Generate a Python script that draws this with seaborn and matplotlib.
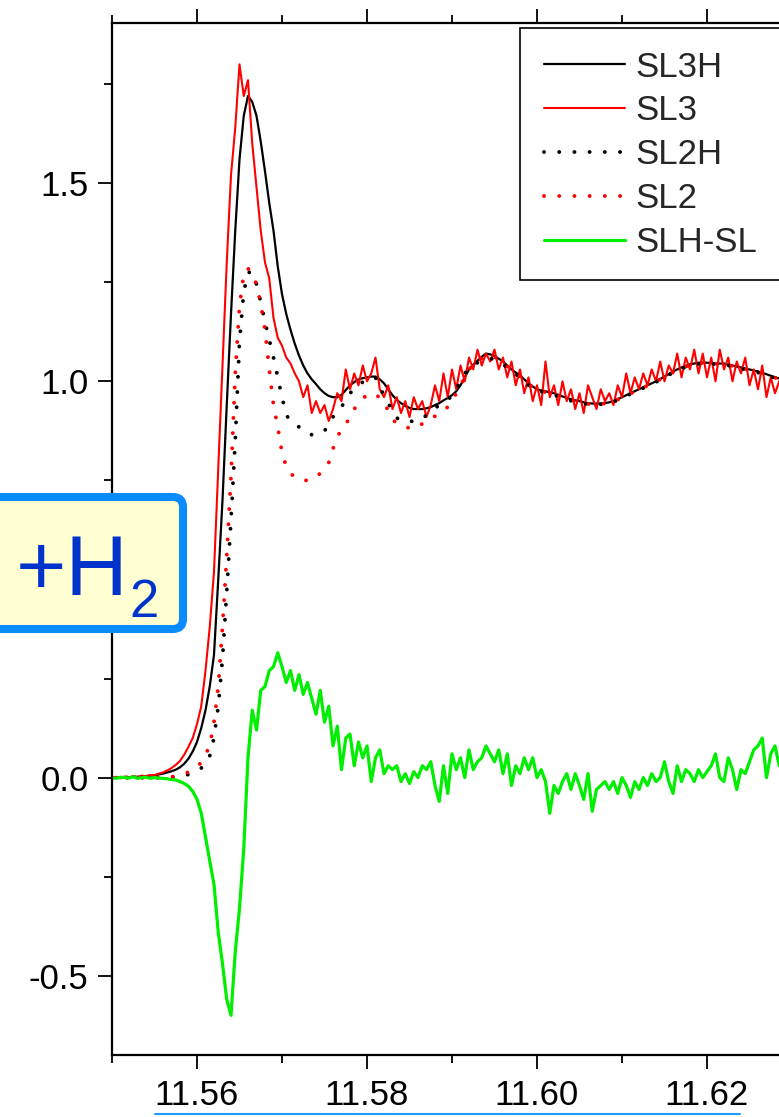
import numpy as np
import matplotlib
matplotlib.use("Agg")
import matplotlib.pyplot as plt
import seaborn as sns
from matplotlib.patches import FancyBboxPatch, Rectangle
from matplotlib.lines import Line2D
from matplotlib.transforms import IdentityTransform
from matplotlib.ticker import MultipleLocator, FormatStrFormatter

# Photon energy grid (keV), 0.5 eV steps
energy = np.round(11.55 + 0.0005 * np.arange(160), 4)

# Normalised absorption, third scan with / without H2
sl3h = [
    0.000, 0.000, 0.000, 0.001, 0.001, 0.002, 0.002, 0.003, 0.004, 0.005,
    0.006, 0.008, 0.010, 0.013, 0.016, 0.020, 0.026, 0.035, 0.048, 0.066,
    0.090, 0.125, 0.170, 0.230, 0.310, 0.500, 0.700, 0.940, 1.170, 1.380,
    1.560, 1.670, 1.720, 1.705, 1.670, 1.605, 1.530, 1.450, 1.380, 1.290,
    1.220, 1.170, 1.130, 1.095, 1.065, 1.040, 1.020, 1.005, 0.993, 0.980,
    0.970, 0.963, 0.960, 0.960, 0.966, 0.978, 0.990, 0.998, 1.005, 1.008,
    1.010, 1.012, 1.012, 1.005, 0.995, 0.980, 0.965, 0.953, 0.945, 0.938,
    0.933, 0.930, 0.930, 0.930, 0.932, 0.935, 0.940, 0.945, 0.952, 0.958,
    0.965, 0.975, 0.990, 1.010, 1.030, 1.042, 1.052, 1.062, 1.070, 1.068,
    1.064, 1.057, 1.050, 1.040, 1.030, 1.022, 1.015, 1.005, 0.995, 0.987,
    0.980, 0.977, 0.975, 0.972, 0.970, 0.966, 0.962, 0.958, 0.955, 0.952,
    0.950, 0.947, 0.945, 0.944, 0.944, 0.944, 0.945, 0.947, 0.950, 0.955,
    0.960, 0.965, 0.970, 0.975, 0.980, 0.985, 0.990, 0.995, 1.000, 1.006,
    1.012, 1.018, 1.025, 1.030, 1.035, 1.039, 1.043, 1.045, 1.047, 1.047,
    1.047, 1.046, 1.045, 1.045, 1.045, 1.042, 1.040, 1.037, 1.035, 1.032,
    1.030, 1.027, 1.025, 1.021, 1.018, 1.014, 1.010, 1.007, 1.005, 1.003,
]
sl3 = [
    0.000, 0.002, -0.002, 0.003, 0.000, 0.004, 0.001, 0.005, 0.003, 0.007,
    0.006, 0.010, 0.013, 0.018, 0.024, 0.032, 0.042, 0.058, 0.078, 0.100,
    0.135, 0.180, 0.270, 0.380, 0.520, 0.780, 1.040, 1.300, 1.520, 1.640,
    1.800, 1.720, 1.760, 1.600, 1.490, 1.380, 1.300, 1.260, 1.160, 1.110,
    1.090, 1.060, 1.045, 1.020, 1.000, 0.960, 0.990, 0.920, 0.950, 0.920,
    0.940, 0.900, 0.930, 0.970, 0.950, 1.030, 0.980, 1.020, 0.990, 1.040,
    1.000, 1.020, 1.060, 0.980, 0.960, 0.990, 0.930, 0.960, 0.920, 0.950,
    0.910, 0.960, 0.930, 0.950, 0.910, 0.940, 0.990, 0.950, 1.020, 0.960,
    1.030, 0.980, 1.040, 1.000, 1.060, 1.030, 1.080, 1.040, 1.070, 1.050,
    1.080, 1.030, 1.060, 1.010, 1.050, 0.990, 1.030, 0.970, 1.010, 0.950,
    0.990, 0.940, 1.050, 0.960, 0.990, 0.940, 1.000, 0.950, 0.980, 0.930,
    0.970, 0.920, 0.990, 0.960, 0.930, 0.980, 0.950, 0.970, 0.940, 0.990,
    0.960, 1.020, 0.970, 1.010, 0.980, 1.020, 0.990, 1.030, 1.000, 1.050,
    1.000, 1.040, 1.020, 1.070, 1.010, 1.060, 1.030, 1.080, 1.020, 1.070,
    1.010, 1.060, 1.000, 1.080, 1.030, 1.060, 1.000, 1.050, 1.020, 1.060,
    0.990, 1.030, 0.980, 1.040, 0.960, 1.010, 0.970, 1.000, 0.960, 0.990,
]
# Second scan with / without H2
sl2h = [
    0.000, 0.000, 0.000, 0.000, 0.000, 0.000, 0.000, 0.000, 0.000, 0.000,
    0.000, 0.000, 0.000, 0.000, 0.001, 0.002, 0.003, 0.005, 0.008, 0.012,
    0.017, 0.024, 0.034, 0.055, 0.100, 0.180, 0.300, 0.470, 0.650, 0.850,
    1.100, 1.225, 1.275, 1.275, 1.245, 1.200, 1.150, 1.105, 1.060, 1.010,
    0.960, 0.915, 0.900, 0.890, 0.885, 0.880, 0.875, 0.865, 0.865, 0.870,
    0.875, 0.890, 0.910, 0.925, 0.935, 0.955, 0.970, 0.980, 0.990, 0.998,
    1.000, 1.005, 1.010, 0.985, 0.965, 0.945, 0.925, 0.908, 0.900, 0.898,
    0.898, 0.900, 0.900, 0.905, 0.915, 0.925, 0.932, 0.940, 0.948, 0.955,
    0.962, 0.980, 1.000, 1.020, 1.032, 1.040, 1.047, 1.052, 1.055, 1.057,
    1.056, 1.050, 1.043, 1.035, 1.026, 1.018, 1.010, 1.000, 0.990, 0.983,
    0.977, 0.974, 0.972, 0.969, 0.966, 0.962, 0.958, 0.954, 0.951, 0.948,
    0.946, 0.944, 0.942, 0.941, 0.941, 0.942, 0.943, 0.945, 0.948, 0.953,
    0.958, 0.963, 0.968, 0.973, 0.978, 0.983, 0.988, 0.993, 0.998, 1.004,
    1.010, 1.016, 1.022, 1.027, 1.032, 1.036, 1.040, 1.042, 1.044, 1.045,
    1.045, 1.044, 1.043, 1.043, 1.042, 1.040, 1.038, 1.035, 1.033, 1.030,
    1.028, 1.025, 1.022, 1.019, 1.016, 1.012, 1.008, 1.005, 1.003, 1.001,
]
sl2 = [
    0.000, 0.000, 0.000, 0.000, 0.000, 0.000, 0.000, 0.000, 0.000, 0.000,
    0.000, 0.000, 0.001, 0.001, 0.002, 0.004, 0.006, 0.010, 0.014, 0.020,
    0.028, 0.038, 0.058, 0.080, 0.140, 0.230, 0.380, 0.560, 0.760, 1.020,
    1.190, 1.270, 1.285, 1.270, 1.245, 1.195, 1.130, 1.030, 0.940, 0.885,
    0.820, 0.785, 0.768, 0.758, 0.752, 0.750, 0.750, 0.752, 0.758, 0.768,
    0.780, 0.795, 0.830, 0.860, 0.878, 0.888, 0.915, 0.930, 0.945, 0.957,
    0.965, 0.970, 0.968, 0.958, 0.948, 0.925, 0.905, 0.893, 0.888, 0.885,
    0.882, 0.880, 0.885, 0.893, 0.900, 0.907, 0.912, 0.920, 0.928, 0.935,
    0.950, 0.970, 0.990, 1.010, 1.030, 1.042, 1.050, 1.058, 1.064, 1.066,
    1.062, 1.055, 1.048, 1.038, 1.028, 1.020, 1.012, 1.003, 0.993, 0.985,
    0.978, 0.975, 0.973, 0.970, 0.968, 0.964, 0.960, 0.956, 0.953, 0.950,
    0.948, 0.945, 0.943, 0.942, 0.942, 0.943, 0.944, 0.946, 0.949, 0.954,
    0.959, 0.964, 0.969, 0.974, 0.979, 0.984, 0.989, 0.994, 0.999, 1.005,
    1.011, 1.017, 1.023, 1.028, 1.033, 1.037, 1.041, 1.043, 1.045, 1.046,
    1.046, 1.045, 1.044, 1.044, 1.043, 1.041, 1.039, 1.036, 1.034, 1.031,
    1.029, 1.026, 1.023, 1.020, 1.017, 1.013, 1.009, 1.006, 1.004, 1.002,
]
# Difference spectrum (with H2 minus without)
slh_sl = [
    0.000, -0.002, 0.001, 0.000, -0.001, 0.002, -0.002, 0.000, 0.001, -0.002,
    0.000, -0.001, -0.002, -0.003, -0.005, -0.006, -0.010, -0.015, -0.022, -0.035,
    -0.055, -0.090, -0.150, -0.210, -0.270, -0.390, -0.470, -0.560, -0.600, -0.440,
    -0.330, -0.180, 0.050, 0.170, 0.120, 0.220, 0.230, 0.270, 0.280, 0.315,
    0.280, 0.240, 0.270, 0.220, 0.260, 0.210, 0.240, 0.200, 0.160, 0.220,
    0.140, 0.180, 0.080, 0.130, 0.020, 0.100, 0.110, 0.030, 0.090, 0.050,
    0.080, -0.010, 0.050, 0.070, 0.010, 0.030, 0.020, 0.030, -0.010, 0.010,
    -0.015, 0.015, 0.000, 0.030, 0.020, 0.040, -0.020, -0.060, 0.030, -0.040,
    0.060, 0.020, 0.050, 0.000, 0.070, 0.020, 0.040, 0.050, 0.080, 0.060,
    0.040, 0.070, 0.010, 0.060, -0.020, 0.030, 0.010, 0.050, 0.020, 0.050,
    0.000, 0.020, -0.010, -0.090, -0.020, -0.040, -0.010, 0.010, -0.030, 0.010,
    -0.020, -0.055, 0.010, -0.085, -0.030, -0.020, -0.010, -0.030, -0.010, -0.040,
    0.000, -0.020, -0.050, -0.010, -0.030, 0.000, -0.020, 0.010, -0.010, 0.000,
    0.040, -0.010, -0.040, 0.030, -0.010, 0.020, 0.010, -0.010, 0.020, 0.000,
    0.015, 0.030, 0.060, 0.000, -0.010, 0.050, 0.020, -0.030, 0.020, 0.010,
    0.040, 0.070, 0.080, 0.100, 0.000, 0.060, 0.080, 0.030, 0.050, 0.020,
]

series_labels = ["SL3H", "SL3", "SL2H", "SL2", "SLH-SL"]
series_values = [sl3h, sl3, sl2h, sl2, slh_sl]
series_colors = ["#000000", "#ff0000", "#000000", "#ff0000", "#00ee00"]
series_styles = ["-", "-", (0, (0.01, 3.9)), (0, (0.01, 3.9)), "-"]
series_widths = [1.6, 1.5, 2.8, 2.8, 2.3]

x_ticks = [11.56, 11.58, 11.60, 11.62]
y_ticks = [-0.5, 0.0, 0.5, 1.0, 1.5]
# the 0.5 label sits under the gas label box, so it is left blank
y_tick_labels = ["-0.5", "0.0", "", "1.0", "1.5"]

sns.set_style("ticks")
plt.rcParams["font.family"] = ["Liberation Sans", "DejaVu Sans"]
plt.rcParams["axes.unicode_minus"] = False

W, H = 779, 1117
fig = plt.figure(figsize=(W / 100, H / 100), dpi=100)
ax = fig.add_axes([112 / W, (H - 1055) / H, 765 / W, (1055 - 22.7) / H])

for vals, lab, col, ls, lw in zip(series_values, series_labels,
                                  series_colors, series_styles, series_widths):
    sns.lineplot(x=energy, y=vals, ax=ax, color=col, linewidth=lw,
                 label=lab, legend=False)
    line = ax.lines[-1]
    line.set_linestyle(ls)
    line.set_dash_capstyle("round")

ax.set_xlim(11.55, 11.64)
ax.set_ylim(-0.7, 1.905)
ax.set_xticks(x_ticks)
ax.set_yticks(y_ticks)
ax.set_yticklabels(y_tick_labels)
ax.xaxis.set_minor_locator(MultipleLocator(0.01))
ax.yaxis.set_minor_locator(MultipleLocator(0.25))
ax.xaxis.set_major_formatter(FormatStrFormatter("%.2f"))

for side in ["left", "bottom", "top"]:
    ax.spines[side].set_linewidth(1.6)
    ax.spines[side].set_color("black")
ax.spines["right"].set_visible(False)

ax.tick_params(axis="x", which="both", direction="out", top=True, bottom=True,
               labeltop=False, width=1.3, colors="black")
ax.tick_params(axis="y", which="both", direction="out", left=True, right=False,
               width=1.3, colors="black")
ax.tick_params(which="major", length=10, labelsize=25, pad=7)
ax.tick_params(which="minor", length=6)

# Legend frame running off the right edge of the panel
frame = Rectangle((520, H - 280), 300, 252, facecolor="white",
                  edgecolor="black", linewidth=1.2,
                  transform=IdentityTransform(), zorder=4.9, clip_on=False)
ax.add_patch(frame)

handles = ax.lines[:5]
leg = ax.legend(handles, series_labels, loc="upper left",
                bbox_to_anchor=(520 / W, 1 - 27 / H),
                bbox_transform=fig.transFigure, frameon=False, fontsize=25,
                handlelength=2.35, handletextpad=0.28, labelspacing=0.31,
                borderpad=0.68, borderaxespad=0)

# Gas label box on the left edge
box = FancyBboxPatch((-30, H - 629), 213, 132,
                     boxstyle="round,pad=0,rounding_size=10",
                     linewidth=5.8, edgecolor="#0a8cff", facecolor="#ffffd2",
                     transform=IdentityTransform(), zorder=10)
fig.add_artist(box)
fig.text(16 / W, (H - 595) / H, "+H", fontsize=62, color="#0033cc",
         ha="left", va="baseline", zorder=11)
fig.text(129 / W, (H - 617) / H, "2", fontsize=38, color="#0033cc",
         ha="left", va="baseline", zorder=11)

# Edge of the panel below
fig.add_artist(Line2D([155, 740], [H - 1114, H - 1114], color="#2299ff",
                      linewidth=1.5, transform=IdentityTransform()))

fig.savefig("out.png", dpi=100)
